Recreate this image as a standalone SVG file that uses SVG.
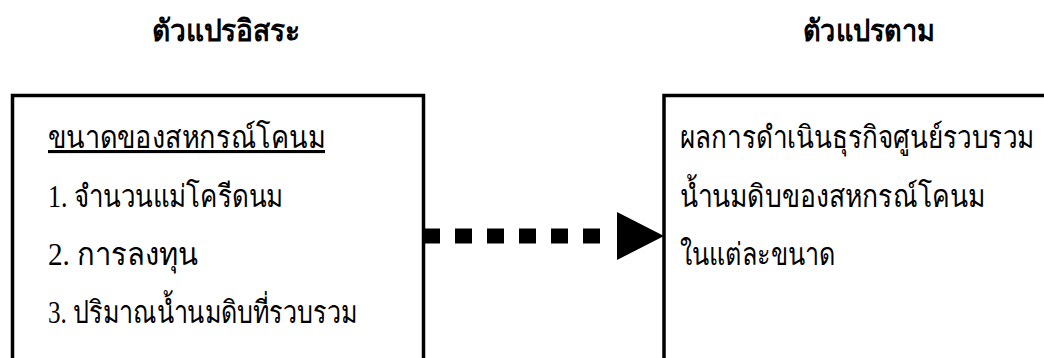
<svg xmlns="http://www.w3.org/2000/svg" width="1044" height="358" viewBox="0 0 1044 358">
  <style>
    .title { font-family: "Liberation Serif", serif; font-size: 30px; font-weight: bold; fill: #000; }
    .body { font-family: "Liberation Serif", serif; font-size: 31px; fill: #000; }
    .box { fill: #fff; stroke: #000; stroke-width: 3.5; }
  </style>
  <defs>
    <marker id="arrowhead" markerUnits="userSpaceOnUse" viewBox="0 0 47 48" refX="-16" refY="24" markerWidth="47" markerHeight="48" orient="auto" overflow="visible">
      <polygon points="0,0 0,48 47,24" fill="#000"/>
    </marker>
  </defs>
  <rect width="1044" height="358" fill="#fff"/>

  <!-- column headings -->
  <text class="title" x="152" y="41" textLength="148" lengthAdjust="spacingAndGlyphs">ตัวแปรอิสระ</text>
  <text class="title" x="803" y="41" textLength="132" lengthAdjust="spacingAndGlyphs">ตัวแปรตาม</text>

  <!-- independent variables -->
  <g id="independent">
    <rect class="box" x="12.5" y="95.5" width="411" height="300"/>
    <text class="body" x="48" y="148" text-decoration="underline" textLength="277" lengthAdjust="spacingAndGlyphs">ขนาดของสหกรณ์โคนม</text>
    <text class="body" x="48" y="207" textLength="235" lengthAdjust="spacingAndGlyphs">1. จำนวนแม่โครีดนม</text>
    <text class="body" x="48" y="265" textLength="150" lengthAdjust="spacingAndGlyphs">2. การลงทุน</text>
    <text class="body" x="48" y="323" textLength="309" lengthAdjust="spacingAndGlyphs">3. ปริมาณน้ำนมดิบที่รวบรวม</text>
  </g>

  <!-- dependent variable -->
  <g id="dependent">
    <rect class="box" x="664" y="95.5" width="420" height="300"/>
    <text class="body" x="680" y="148" textLength="354" lengthAdjust="spacingAndGlyphs">ผลการดำเนินธุรกิจศูนย์รวบรวม</text>
    <text class="body" x="680" y="207" textLength="305" lengthAdjust="spacingAndGlyphs">น้ำนมดิบของสหกรณ์โคนม</text>
    <text class="body" x="680" y="265" textLength="155" lengthAdjust="spacingAndGlyphs">ในแต่ละขนาด</text>
  </g>

  <!-- connectors -->
  <g id="connectors">
    <line x1="423" y1="236" x2="601" y2="236" stroke="#000" stroke-width="15" stroke-dasharray="17 15" marker-end="url(#arrowhead)"/>
  </g>
</svg>
